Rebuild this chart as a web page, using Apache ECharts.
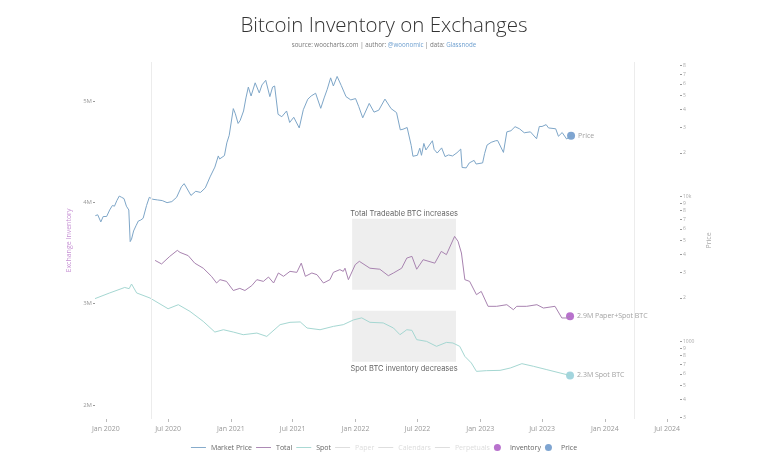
<!DOCTYPE html>
<html><head><meta charset="utf-8">
<script src="https://cdn.jsdelivr.net/npm/echarts@6/dist/echarts.min.js"></script>
<style>html,body{margin:0;padding:0;background:#fff}#c{width:768px;height:463px}</style>
</head><body><div id="c"></div>
<script>
// ---- data ----
const priceDates = ['2019-12-01','2019-12-08','2019-12-17','2019-12-24','2020-01-03','2020-01-12','2020-01-20','2020-01-26','2020-02-02','2020-02-09','2020-02-16','2020-02-23','2020-03-01','2020-03-08','2020-03-12','2020-03-16','2020-03-22','2020-03-29','2020-04-05','2020-04-12','2020-04-19','2020-04-29','2020-05-07','2020-05-17','2020-05-31','2020-06-14','2020-06-28','2020-07-12','2020-07-26','2020-08-09','2020-08-17','2020-08-23','2020-09-06','2020-09-20','2020-10-04','2020-10-18','2020-11-01','2020-11-15','2020-11-25','2020-11-29','2020-12-13','2020-12-20','2020-12-27','2021-01-08','2021-01-14','2021-01-22','2021-01-28','2021-02-07','2021-02-14','2021-02-21','2021-03-01','2021-03-13','2021-03-25','2021-04-02','2021-04-13','2021-04-25','2021-05-03','2021-05-09','2021-05-19','2021-05-30','2021-06-13','2021-06-22','2021-07-04','2021-07-20','2021-08-01','2021-08-14','2021-08-24','2021-09-06','2021-09-21','2021-10-01','2021-10-10','2021-10-20','2021-10-28','2021-11-08','2021-11-20','2021-12-04','2021-12-18','2022-01-01','2022-01-10','2022-01-22','2022-02-10','2022-02-24','2022-03-10','2022-03-28','2022-04-15','2022-05-01','2022-05-12','2022-05-20','2022-06-01','2022-06-13','2022-06-18','2022-07-01','2022-07-08','2022-07-13','2022-07-20','2022-07-26','2022-08-14','2022-08-19','2022-08-28','2022-09-10','2022-09-20','2022-09-30','2022-10-12','2022-10-25','2022-11-05','2022-11-09','2022-11-21','2022-11-30','2022-12-14','2022-12-20','2023-01-08','2023-01-14','2023-01-21','2023-02-02','2023-02-15','2023-02-21','2023-03-10','2023-03-20','2023-04-01','2023-04-13','2023-04-26','2023-05-10','2023-05-28','2023-06-15','2023-06-23','2023-07-01','2023-07-13','2023-07-20','2023-08-10','2023-08-18','2023-08-29','2023-09-11','2023-09-24'];
const priceValues = [7400,7500,6700,7300,7300,8100,8700,8600,9400,10100,9900,9700,8600,8100,4900,5100,5800,6300,6800,6900,7100,8700,9900,9600,9500,9400,9100,9250,9900,11700,12300,11650,10200,10900,10700,11500,13700,16000,19100,18200,19200,23500,26500,40500,37300,32000,33500,39000,48000,57000,49500,61000,52000,59000,63500,49000,57000,58000,37000,35600,39000,32500,35300,29800,39800,47000,49500,51700,40700,48000,55000,66000,58000,67500,58500,49000,46500,47500,42000,35000,44000,38300,39500,47100,40500,38000,28900,29200,30000,22500,19000,19300,21600,19300,23300,21000,24300,21200,20000,21700,18900,19400,19100,20100,21300,15900,15800,17100,17800,16800,17100,19900,22700,23700,24300,24400,20200,28000,28500,30400,29400,27600,28000,25100,30500,30500,31400,29800,29400,26100,27700,25000,26300];

const totalDates = ['2020-05-24','2020-06-12','2020-07-06','2020-07-28','2020-08-05','2020-08-29','2020-09-17','2020-10-12','2020-11-05','2020-11-20','2020-11-30','2020-12-19','2021-01-08','2021-01-27','2021-02-11','2021-03-03','2021-03-18','2021-04-06','2021-04-21','2021-05-06','2021-05-20','2021-06-04','2021-06-23','2021-07-13','2021-07-26','2021-08-07','2021-08-26','2021-09-10','2021-09-29','2021-10-18','2021-10-28','2021-11-16','2021-11-26','2021-12-01','2021-12-11','2021-12-31','2022-01-12','2022-02-12','2022-03-13','2022-04-07','2022-04-22','2022-05-16','2022-05-31','2022-06-15','2022-06-29','2022-07-18','2022-08-21','2022-09-09','2022-09-24','2022-10-18','2022-10-28','2022-11-07','2022-11-17','2022-12-01','2022-12-21','2023-01-04','2023-01-24','2023-02-18','2023-03-20','2023-04-08','2023-04-18','2023-05-17','2023-06-16','2023-07-05','2023-08-08','2023-08-28','2023-09-11','2023-09-21'];
const totalValues = [3.427,3.392,3.467,3.526,3.506,3.474,3.40,3.35,3.27,3.204,3.237,3.22,3.13,3.151,3.13,3.178,3.237,3.22,3.263,3.204,3.303,3.27,3.319,3.309,3.40,3.27,3.303,3.286,3.204,3.237,3.309,3.336,3.319,3.35,3.237,3.385,3.418,3.35,3.34,3.276,3.303,3.35,3.45,3.467,3.34,3.434,3.40,3.516,3.484,3.664,3.615,3.50,3.237,3.22,3.089,3.121,2.974,2.974,2.99,2.941,2.974,2.974,2.99,2.957,2.974,2.859,2.859,2.875];

const spotDates = ['2019-11-30','2020-01-12','2020-02-25','2020-03-09','2020-03-16','2020-03-31','2020-05-09','2020-07-01','2020-07-31','2020-09-03','2020-10-12','2020-11-15','2020-12-10','2021-01-08','2021-02-06','2021-03-18','2021-04-16','2021-05-25','2021-06-23','2021-07-23','2021-08-12','2021-09-19','2021-10-28','2021-11-26','2021-12-26','2022-01-19','2022-02-12','2022-03-23','2022-04-22','2022-05-11','2022-05-31','2022-06-15','2022-06-29','2022-07-28','2022-08-26','2022-09-24','2022-10-13','2022-11-02','2022-11-17','2022-12-06','2022-12-21','2023-01-19','2023-02-28','2023-03-30','2023-05-03','2023-06-06','2023-07-15','2023-08-23','2023-09-21'];
const spotValues = [3.05,3.106,3.16,3.148,3.194,3.106,3.056,2.95,2.99,2.924,2.825,2.72,2.743,2.72,2.694,2.71,2.677,2.793,2.816,2.82,2.76,2.743,2.776,2.793,2.84,2.86,2.816,2.81,2.76,2.694,2.743,2.737,2.645,2.628,2.579,2.618,2.612,2.579,2.48,2.415,2.332,2.339,2.342,2.365,2.408,2.382,2.349,2.316,2.292];

const inventoryTicks = [2,3,4,5];
const priceTicks = [300,400,500,600,700,800,900,1000,2000,3000,4000,5000,6000,7000,8000,9000,10000,20000,30000,40000,50000,60000,70000,80000];
const markerDates = ['2020-05-14','2024-03-27'];
const boxDates = ['2021-12-22','2022-10-22'];
const totalBoxRange = [3.138,3.839];
const spotBoxRange = [2.428,2.931];
const boxLabels = ['Total Tradeable BTC increases','Spot BTC inventory decreases'];
const legendNames = ['Market Price','Total','Spot','Paper','Calendars','Perpetuals','Inventory','Price'];

// ---- chart ----
const zip = (a, b) => a.map((d, i) => [d, b[i]]);
const months = ['Jan','Feb','Mar','Apr','May','Jun','Jul','Aug','Sep','Oct','Nov','Dec'];
const lastTotal = totalValues[totalValues.length - 1];
const lastSpot = spotValues[spotValues.length - 1];
const DAY = 24 * 3600 * 1000;
const LINE_ICON = 'path://M0,0M0,3h16v1h-16zM16,7';

const chart = echarts.init(document.getElementById('c'), null, {renderer: 'canvas'});
chart.setOption({
  backgroundColor: '#fff',
  animation: false,
  textStyle: {fontFamily: 'Open Sans'},
  title: {
    text: 'Bitcoin Inventory on Exchanges',
    subtext: 'source: woocharts.com | author: {b|@woonomic} | data: {b|Glassnode}',
    left: 'center', top: 11, itemGap: 5,
    textStyle: {fontFamily: 'Open Sans', fontWeight: 300, fontSize: 20.5, color: '#333'},
    subtextStyle: {fontFamily: 'Open Sans', fontSize: 6.2, color: '#777', rich: {b: {color: '#6fa0d0', fontSize: 6.2, fontFamily: 'Open Sans'}}}
  },
  legend: {
    data: legendNames.map(n => ({name: n, icon: (n === 'Inventory' || n === 'Price') ? 'circle' : LINE_ICON})),
    selected: {Paper: false, Calendars: false, Perpetuals: false},
    top: 439, left: 'center',
    itemWidth: 15, itemHeight: 7, itemGap: 4,
    inactiveColor: '#dcdcdc',
    textStyle: {fontSize: 7, color: '#666', fontFamily: 'Open Sans'}
  },
  grid: {left: 95, right: 88, top: 62, bottom: 44},
  xAxis: {
    type: 'time', min: '2019-11-30', max: '2024-08-08',
    minInterval: 180 * DAY, maxInterval: 186 * DAY,
    axisLine: {show: false},
    splitLine: {show: false},
    axisTick: {show: true, length: 3, lineStyle: {color: '#bbb'}},
    axisLabel: {fontSize: 7, color: '#999', margin: 6, hideOverlap: false,
      formatter: v => { const d = new Date(v); return months[d.getMonth()] + ' ' + d.getFullYear(); }}
  },
  yAxis: [
    {
      type: 'value', position: 'left', min: 1.862, max: 5.385,
      splitLine: {show: false}, axisLine: {show: false},
      axisTick: {show: true, length: 2, lineStyle: {color: '#999'}, customValues: inventoryTicks},
      axisLabel: {customValues: inventoryTicks, formatter: v => v + 'M', fontSize: 6, color: '#999', margin: 3},
      name: 'Exchange Inventory', nameLocation: 'middle', nameGap: 11,
      nameTextStyle: {color: '#c58fd3', fontSize: 7}
    },
    {
      type: 'log', logBase: 10, position: 'right', min: 293, max: 84900,
      splitLine: {show: false}, axisLine: {show: false},
      axisTick: {show: true, length: 2, lineStyle: {color: '#999'}, customValues: priceTicks},
      axisLabel: {customValues: priceTicks, fontSize: 5, color: '#aaa', margin: 3,
        formatter: v => v === 10000 ? '10k' : (v === 1000 ? '1000' : String(v).charAt(0))},
      name: 'Price', nameLocation: 'middle', nameGap: 8,
      nameTextStyle: {color: '#aaa', fontSize: 7}
    }
  ],
  series: [
    {
      name: 'Market Price', type: 'line', yAxisIndex: 1, symbol: 'none',
      data: zip(priceDates, priceValues),
      lineStyle: {width: 1, color: '#7ea6c8'}, itemStyle: {color: '#7ea6c8'},
      markLine: {silent: true, symbol: 'none', label: {show: false},
        lineStyle: {color: '#ececec', type: 'solid', width: 1},
        data: markerDates.map(d => ({xAxis: d}))}
    },
    {
      name: 'Total', type: 'line', yAxisIndex: 0, symbol: 'none',
      data: zip(totalDates, totalValues),
      lineStyle: {width: 1, color: '#a883b0'}, itemStyle: {color: '#a883b0'},
      markArea: {silent: true, itemStyle: {color: '#eeeeee'},
        label: {show: true, position: 'top', distance: 1, color: '#666', fontSize: 7.5, fontFamily: 'Inter'},
        data: [[{name: boxLabels[0], coord: [boxDates[0], totalBoxRange[1]]}, {coord: [boxDates[1], totalBoxRange[0]]}]]}
    },
    {
      name: 'Spot', type: 'line', yAxisIndex: 0, symbol: 'none',
      data: zip(spotDates, spotValues),
      lineStyle: {width: 1, color: '#a5d7d2'}, itemStyle: {color: '#a5d7d2'},
      markArea: {silent: true, itemStyle: {color: '#eeeeee'},
        label: {show: true, position: 'bottom', distance: 3, color: '#666', fontSize: 7.5, fontFamily: 'Inter'},
        data: [[{name: boxLabels[1], coord: [boxDates[0], spotBoxRange[1]]}, {coord: [boxDates[1], spotBoxRange[0]]}]]}
    },
    {name: 'Paper', type: 'line', symbol: 'none', data: [], itemStyle: {color: '#c9e6e2'}},
    {name: 'Calendars', type: 'line', symbol: 'none', data: [], itemStyle: {color: '#e2e2e2'}},
    {name: 'Perpetuals', type: 'line', symbol: 'none', data: [], itemStyle: {color: '#e8e8e8'}},
    {
      name: 'Inventory', type: 'scatter', yAxisIndex: 0, symbolSize: 8,
      itemStyle: {color: '#a64fc0'},
      label: {show: true, position: 'right', distance: 3, fontSize: 7, color: '#888', formatter: p => p.data.label},
      data: [
        {value: [totalDates[totalDates.length - 1], lastTotal], label: lastTotal.toFixed(1) + 'M Paper+Spot BTC', itemStyle: {color: '#a64fc0'}},
        {value: [spotDates[spotDates.length - 1], lastSpot], label: lastSpot.toFixed(1) + 'M Spot BTC', itemStyle: {color: '#8ccbd6'}}
      ]
    },
    {
      name: 'Price', type: 'scatter', yAxisIndex: 1, symbolSize: 8,
      itemStyle: {color: '#5f8fc5'},
      label: {show: true, position: 'right', distance: 3, fontSize: 7, color: '#888', formatter: 'Price'},
      data: [[priceDates[priceDates.length - 1], priceValues[priceValues.length - 1]]]
    }
  ]
});
</script></body></html>
